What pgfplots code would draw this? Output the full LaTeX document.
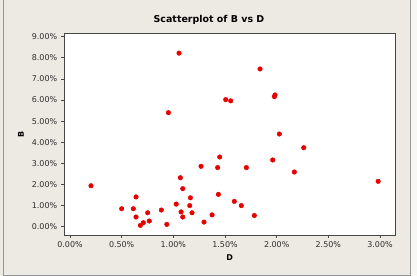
\documentclass[border=0pt]{standalone}
\usepackage{pgfplots}
\pgfplotsset{compat=1.18}
\usepackage{fontspec}
\setmainfont{DejaVu Sans}
\definecolor{bgc}{RGB}{237,234,227}
\definecolor{framec}{RGB}{150,150,150}
\definecolor{axc}{RGB}{70,70,70}
\definecolor{txtc}{RGB}{45,45,45}
\definecolor{dotc}{RGB}{232,0,0}
\begin{document}
\begin{tikzpicture}
\path[use as bounding box] (0bp,0bp) rectangle (417bp,276bp);
\fill[bgc] (0bp,0bp) rectangle (417bp,276bp);
\fill[white!60!bgc] (410bp,0bp) rectangle (417bp,276bp);
\draw[framec, line width=0.8bp] (3bp,276bp) -- (3bp,1bp) -- (410bp,1bp) -- (410bp,276bp);
\node[font=\fontsize{9.5}{11}\selectfont\bfseries, text=black] at (209bp,256bp) {Scatterplot of B vs D};
\begin{axis}[
  at={(64bp,41bp)}, anchor=south west,
  scale only axis, width=331.3bp, height=201.7bp,
  xmin=-0.058, xmax=3.148, ymin=-0.393, ymax=9.16,
  axis background/.style={fill=white},
  axis line style={axc, line width=0.7bp},
  tick style={axc, line width=0.6bp},
  tick align=outside, major tick length=3bp,
  xtick pos=bottom, ytick pos=left,
  xtick={0,0.5,1,1.5,2,2.5,3},
  xticklabels={0.00\%,0.50\%,1.00\%,1.50\%,2.00\%,2.50\%,3.00\%},
  ytick={0,1,2,3,4,5,6,7,8,9},
  yticklabels={0.00\%,1.00\%,2.00\%,3.00\%,4.00\%,5.00\%,6.00\%,7.00\%,8.00\%,9.00\%},
  ticklabel style={font=\fontsize{8}{9}\selectfont, text=txtc},
  xticklabel style={yshift=-0.5bp},
  yticklabel style={xshift=-0.3bp},
  xlabel={\textbf{D}}, ylabel={\textbf{B}},
  label style={font=\fontsize{8}{9}\selectfont, text=black},
  xlabel style={at={(rel axis cs:0.5,0)}, anchor=center, yshift=-23bp},
  ylabel style={at={(rel axis cs:0,0.5)}, anchor=center, yshift=43bp},
  clip=false,
]
\addplot[only marks, mark=*, mark size=2.3bp, dotc, mark options={draw=dotc, fill=dotc}] coordinates {
(0.203,1.94) (0.500,0.85) (0.613,0.85) (0.639,1.41) (0.639,0.46)
(0.752,0.66) (0.681,0.06) (0.710,0.19) (0.767,0.27) (0.884,0.79)
(0.937,0.11) (0.952,5.40) (1.028,1.07) (1.055,8.22) (1.068,2.32)
(1.075,0.70) (1.091,0.46) (1.091,1.80) (1.159,1.00) (1.165,1.37)
(1.181,0.66) (1.268,2.86) (1.297,0.22) (1.375,0.56) (1.429,2.80)
(1.436,1.53) (1.449,3.30) (1.507,6.02) (1.555,5.96) (1.590,1.20)
(1.658,1.00) (1.707,2.80) (1.784,0.53) (1.839,7.47) (1.962,3.16)
(1.978,6.16) (1.984,6.24) (2.026,4.39) (2.171,2.59) (2.262,3.74)
(2.982,2.15)
};
\end{axis}
\end{tikzpicture}
\end{document}
